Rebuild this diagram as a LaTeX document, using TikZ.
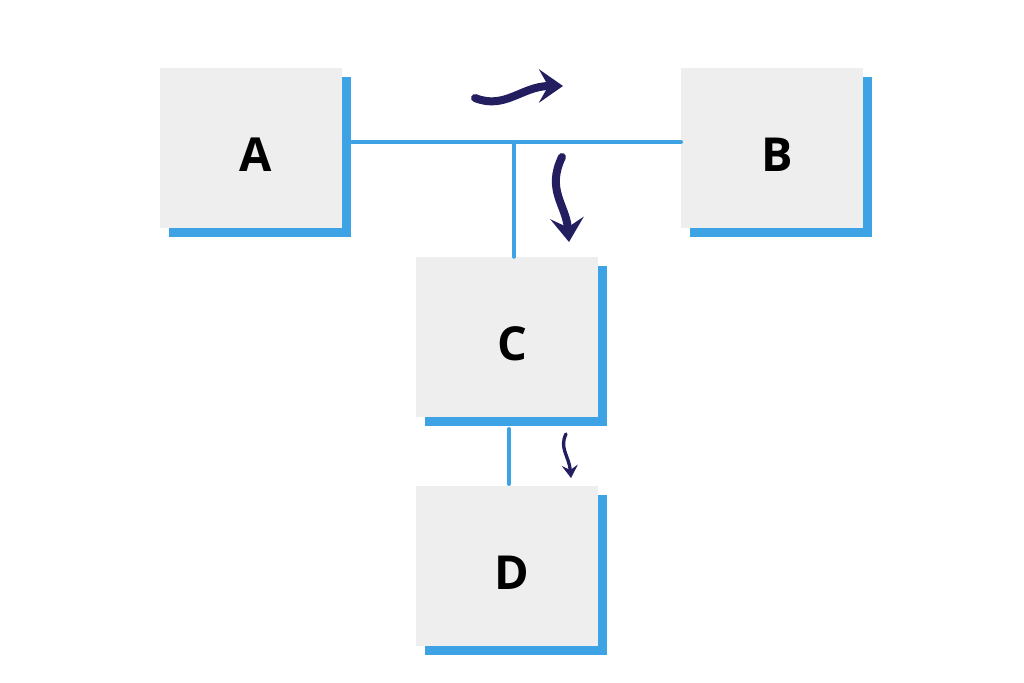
\documentclass[tikz,border=0pt]{standalone}
\usepackage{fontspec}
\setmainfont{Open Sans}
\usetikzlibrary{shadows,arrows.meta}
\definecolor{colBlue}{RGB}{62,163,228}
\definecolor{colNavy}{RGB}{34,30,96}
\definecolor{colGray}{RGB}{238,238,238}
\tikzstyle{box}=[rectangle, fill=colGray, minimum width=5.46cm, minimum height=4.8cm, inner sep=0pt,
	drop shadow={shadow xshift=0.28cm, shadow yshift=-0.28cm, fill=colBlue, opacity=1}]
\tikzstyle{letter}=[font=\fontsize{40}{41}\selectfont\bfseries, inner sep=0pt]
\tikzstyle{link}=[line width=0.12cm, colBlue, line cap=round]
\tikzstyle{flow}=[line width=0.24cm, colNavy, line cap=round,
	-{Stealth[length=0.72cm, width=1.0cm, inset=0.28cm]}]
\tikzstyle{smallflow}=[flow, line width=0.1cm,
	-{Stealth[length=0.38cm, width=0.48cm, inset=0.14cm]}]

\begin{document}
\begin{tikzpicture}[x=0.03cm, y=-0.03cm]
			\useasboundingbox[fill=white] (0,0) rectangle (1024,683);

			%%% Boxes
			\node[box] (A) at (251, 148) {};
			\node[box] (B) at (772, 148) {};
			\node[box] (C) at (507, 337) {};
			\node[box] (D) at (507, 566) {};

			\node[letter] at (256, 155) {A};
			\node[letter] at (777, 155) {B};
			\node[letter] at (512, 344) {C};
			\node[letter] at (512, 573) {D};

			%%% Connections
			\coordinate (AB1) at (352, 142);
			\coordinate (AB2) at (681, 142);
			\coordinate (J)   at (514, 142);
			\coordinate (CD1) at (509, 429);
			\coordinate (CD2) at (509, 484);
			\draw[link] (AB1) -- (AB2);
			\draw[link] (J) -- (J |- C.north);
			\draw[link] (CD1) -- (CD2);

			%%% Direction arrows
			\coordinate (f1) at (475, 98);
			\coordinate (t1) at (563, 86);
			\coordinate (f2) at (562, 157);
			\coordinate (t2) at (569, 242);
			\coordinate (f3) at (566, 434);
			\coordinate (t3) at (571, 478);
			\draw[flow] (f1) .. controls (505, 110) and (522, 86) .. (t1);
			\draw[flow] (f2) .. controls (546, 190) and (566, 205) .. (t2);
			\draw[smallflow] (f3) .. controls (559, 448) and (569, 456) .. (t3);
		\end{tikzpicture}
\end{document}
